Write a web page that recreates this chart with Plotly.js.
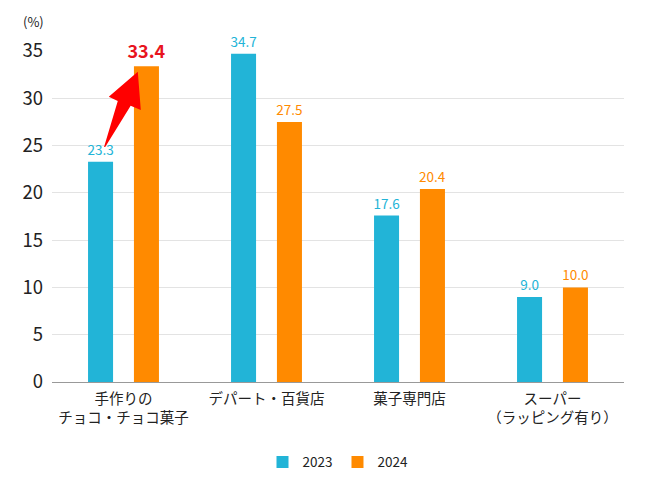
<!DOCTYPE html>
<html><head><meta charset="utf-8">
<script src="https://cdn.plot.ly/plotly-3.0.1.min.js"></script>
<style>html,body{margin:0;padding:0;background:#fff}#c{width:648px;height:489px}</style>
</head><body><div id="c"></div>
<script>
const categories = ["手作りの<br>チョコ・チョコ菓子", "デパート・百貨店", "菓子専門店", "スーパー<br>（ラッピング有り）"];
const series2023 = [23.3, 34.7, 17.6, 9.0];
const series2024 = [33.4, 27.5, 20.4, 10.0];
const seriesNames = ["2023", "2024"];
const yTicks = [0, 5, 10, 15, 20, 25, 30, 35];

const C23 = "#22b4d7", C24 = "#ff8a00", RED = "#e8141e";
const FONT = "'Noto Sans CJK JP', 'Noto Sans', sans-serif";

const t24 = series2024.map((v, i) => i === 0 ? "<b>" + v.toFixed(1) + "</b>" : v.toFixed(1));
const data = [
  {type: "bar", name: seriesNames[0], x: categories, y: series2023, marker: {color: C23},
   width: 0.175, offset: -0.248,
   text: series2023.map(v => v.toFixed(1)), textposition: "outside", cliponaxis: false, constraintext: "none",
   textfont: {color: C23, size: 13.5, family: FONT}, hoverinfo: "skip"},
  {type: "bar", name: seriesNames[1], x: categories, y: series2024, marker: {color: C24},
   width: 0.175, offset: 0.073,
   text: t24, textposition: "outside", cliponaxis: false, constraintext: "none",
   textfont: {color: series2024.map((v, i) => i === 0 ? RED : C24), size: series2024.map((v, i) => i === 0 ? 18 : 13.5), family: FONT}, hoverinfo: "skip"}
];

// arrow from the 2023 label to the 2024 bar of the first category (data coords)
const b = series2023[0];
const arrowPts = [[-0.136, b + 1.55], [-0.04, b + 6.4], [-0.103, b + 6.85], [0.10, b + 9.5], [0.121, b + 5.45], [0.05, b + 5.9], [-0.128, b + 1.55]];
const arrowPath = "M " + arrowPts.map(p => p[0] + "," + p[1]).join(" L ") + " Z";

const layout = {
  width: 648, height: 489,
  margin: {l: 52, r: 24, t: 51, b: 107},
  paper_bgcolor: "#fff", plot_bgcolor: "#fff",
  font: {family: FONT, color: "#222"},
  barmode: "group",
  showlegend: true,
  legend: {orientation: "h", x: 0.5, xanchor: "center", y: -0.242, yanchor: "middle",
           font: {size: 13.5, color: "#222", family: FONT}, traceorder: "normal"},
  xaxis: {type: "category", range: [-0.5, 3.5], showline: true, linecolor: "#999", linewidth: 1,
          ticks: "", ticklabelstandoff: 4, tickfont: {size: 14.5, color: "#222", family: FONT}, showgrid: false, fixedrange: true},
  yaxis: {range: [0, 35], tickvals: yTicks, ticktext: yTicks.map(String), showgrid: true, gridcolor: "#e3e3e3",
          gridwidth: 1, zeroline: false, showline: false, ticks: "", ticklabelstandoff: 8,
          tickfont: {size: 18.5, color: "#222", family: FONT}, fixedrange: true},
  shapes: [{type: "path", xref: "x", yref: "y", path: arrowPath, fillcolor: "#ff0000", line: {width: 0}, layer: "above"}],
  annotations: [{xref: "paper", yref: "paper", x: -0.033, y: 1.088, text: "(%)", showarrow: false,
                 font: {size: 13, color: "#222", family: FONT}, xanchor: "center", yanchor: "middle"}]
};
Plotly.newPlot("c", data, layout, {displayModeBar: false, staticPlot: true});
</script></body></html>
